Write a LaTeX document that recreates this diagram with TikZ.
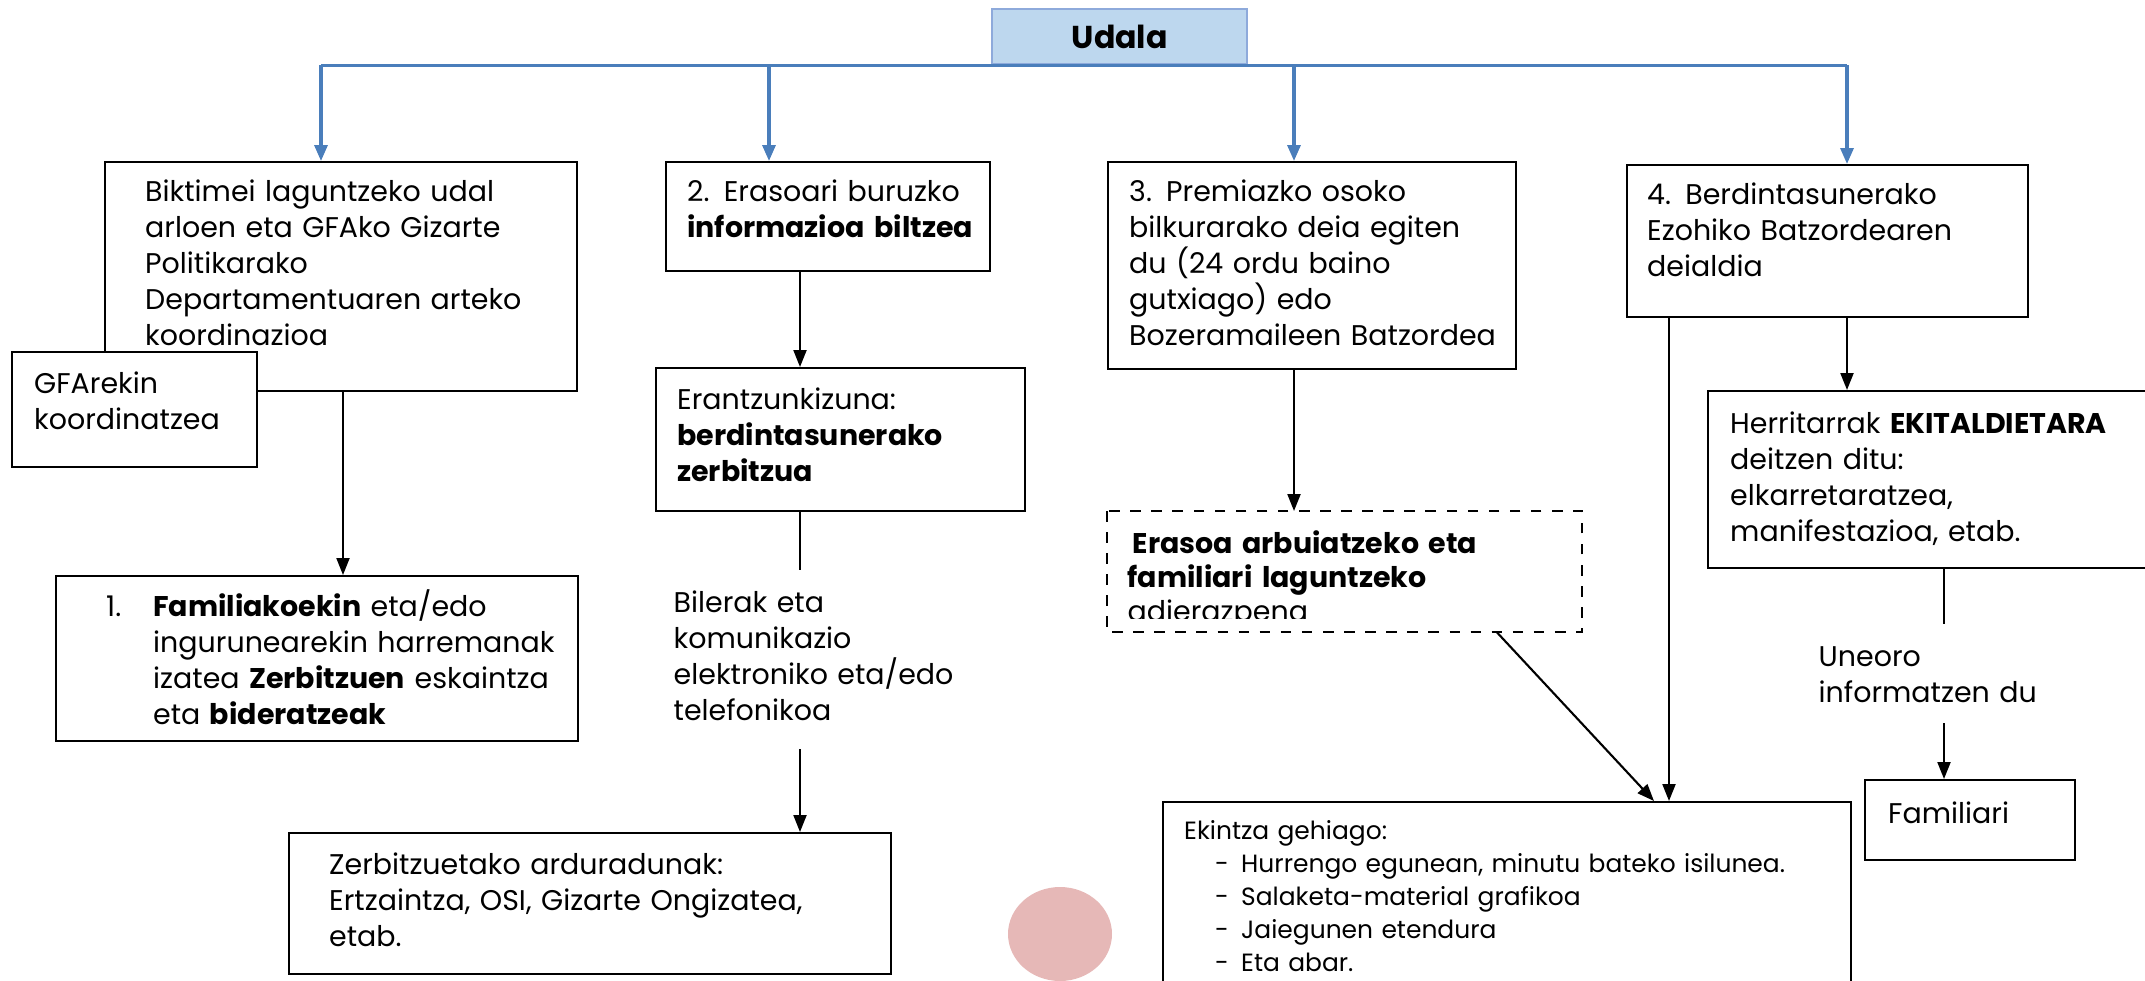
\documentclass[tikz,border=0pt]{standalone}
\usepackage{fontspec}
\setmainfont{Poppins}
\usetikzlibrary{arrows.meta}
\definecolor{udalafill}{HTML}{BDD7EE}
\definecolor{udaladraw}{HTML}{8EAADB}
\definecolor{busblue}{HTML}{4A7EBB}
\definecolor{pinkdot}{HTML}{E6B8B7}

\begin{document}
\begin{tikzpicture}[
		x=0.1mm, y=-0.1mm,
		every node/.style={inner sep=0pt, anchor=north west, align=left, font=\fontsize{8.1}{10.25}\selectfont},
		box/.style={draw, line width=0.7pt, fill=white},
		dashbox/.style={draw, dashed, line width=0.6pt},
		udalabox/.style={draw=udaladraw, fill=udalafill, line width=0.7pt, align=center, font=\fontsize{9}{11}\selectfont},
		arr/.style={-{Triangle[length=1.7mm,width=1.3mm]}, line width=0.6pt},
		bus/.style={draw=busblue, line width=0.9pt},
		bustip/.style={-{Triangle[length=1.6mm,width=1.3mm]}, busblue, line width=0.9pt}
		]
		\useasboundingbox (0,0) rectangle (2145,980);
		\clip (0,0) rectangle (2145,980);

		% zutabeak
		\coordinate (k1) at (321,0);
		\coordinate (k2) at (769,0);
		\coordinate (k3) at (1294,0);
		\coordinate (k4) at (1847,0);
		\coordinate (a1) at (343,0);
		\coordinate (a2) at (800,0);
		\coordinate (a4) at (1669,0);
		\coordinate (a6) at (1944,0);
		\coordinate (d1) at (1497,0);
		\coordinate (d2) at (1654,0);

		\node[udalabox, minimum width=25.5mm, minimum height=5.5mm] (udala) at (991,8) {\textbf{Udala}};

		% lehen maila
		\node[box, text width=47.2mm, text height=3.9mm, text depth=19mm] (b1) at (104,161)
		{\leftskip=4mm Biktimei laguntzeko udal\\arloen eta GFAko Gizarte\\Politikarako\\Departamentuaren arteko\\koordinazioa\par};
		\node[box, text width=24.5mm, text height=4.1mm, text depth=7.4mm] (gf) at (11,351)
		{\leftskip=2.2mm GFArekin\\koordinatzea\par};
		\node[box, text width=32.4mm, text height=3.9mm, text depth=7mm] (b2) at (665,161)
		{\leftskip=2.1mm 2. Erasoari buruzko\\\textbf{informazioa biltzea}\par};
		\node[box, text width=40.8mm, text height=3.9mm, text depth=16.8mm] (b3) at (1107,161)
		{\leftskip=2.1mm 3. Premiazko osoko\\bilkurarako deia egiten\\du (24 ordu baino\\gutxiago) edo\\Bozeramaileen Batzordea\par};
		\node[box, text width=40.1mm, text height=3.9mm, text depth=11.3mm] (b4) at (1626,164)
		{\leftskip=2mm 4. Berdintasunerako\\Ezohiko Batzordearen\\deialdia\par};

		% bigarren maila
		\node[box, text width=52.2mm, text height=4mm, text depth=12.5mm] (fam) at (55,575)
		{\leftskip=9.7mm\leavevmode\llap{\makebox[4.7mm][l]{1.}}\textbf{Familiakoekin} eta/edo\\ingurunearekin harremanak\\izatea \textbf{Zerbitzuen} eskaintza\\eta \textbf{bideratzeak}\par};
		\node[box, text width=36.9mm, text height=4.1mm, text depth=10.2mm] (er) at (655,367)
		{\leftskip=2.1mm Erantzunkizuna:\\\textbf{berdintasunerako}\\\textbf{zerbitzua}\par};
		\node[text width=30mm, text height=4.2mm, text depth=13.6mm] (bil) at (673,570)
		{Bilerak eta\\komunikazio\\elektroniko eta/edo\\telefonikoa};
		\node[box, text width=60.2mm, text height=4.1mm, text depth=10mm] (zer) at (288,832)
		{\leftskip=4mm Zerbitzuetako arduradunak:\\Ertzaintza, OSI, Gizarte Ongizatea,\\etab.\par};

		\begin{scope}
			\clip (1107,511) rectangle (1581,618);
			\node[text width=47.4mm, text height=4.2mm, text depth=7.8mm, font=\fontsize{8.1}{9.67}\selectfont] (era) at (1107,511)
			{\leftskip=2mm\hspace*{0.5mm}\textbf{Erasoa arbuiatzeko eta}\\\textbf{familiari laguntzeko}\\adierazpena\par};
		\end{scope}
		\draw[dashbox] (era.north west) rectangle (era.south east);

		\node[box, text width=45.3mm, text height=4.2mm, text depth=13.5mm] (her) at (1707,390)
		{\leftskip=2.2mm Herritarrak \textbf{EKITALDIETARA}\\deitzen ditu:\\elkarretaratzea,\\manifestazioa, etab.\par};
		\node[text width=25mm, text height=4.2mm, text depth=5.6mm] (une) at (1818,624)
		{Uneoro\\informatzen du};
		\node[box, text width=21mm, text height=4.3mm, text depth=3.7mm] (fa) at (1864,779)
		{\leftskip=2.3mm Familiari\par};
		\node[box, text width=68.8mm, text height=3.7mm, text depth=17.2mm, font=\fontsize{7.1}{9.4}\selectfont] (ek) at (1162,801)
		{\leftskip=2.1mm Ekintza gehiago:\\
			\hspace*{3.1mm}\makebox[2.6mm][l]{-}Hurrengo egunean, minutu bateko isilunea.\\
			\hspace*{3.1mm}\makebox[2.6mm][l]{-}Salaketa-material grafikoa\\
			\hspace*{3.1mm}\makebox[2.6mm][l]{-}Jaiegunen etendura\\
			\hspace*{3.1mm}\makebox[2.6mm][l]{-}Eta abar.\par};

		\fill[pinkdot] (1060,934) ellipse [x radius=52, y radius=47];

		% Udalaren adarrak
		\draw[bus] (k1 |- udala.south) -- (k4 |- udala.south);
		\draw[bustip] (k1 |- udala.south) -- (k1 |- b1.north);
		\draw[bustip] (k2 |- udala.south) -- (k2 |- b2.north);
		\draw[bustip] (k3 |- udala.south) -- (k3 |- b3.north);
		\draw[bustip] (k4 |- udala.south) -- (k4 |- b4.north);

		% gezi beltzak
		\draw[arr] (b1.south -| a1) -- (fam.north -| a1);
		\draw[arr] (b2.south -| a2) -- (er.north -| a2);
		\draw[line width=0.6pt] (er.south -| a2) -- (bil.north -| a2);
		\draw[arr] (bil.south -| a2) -- (zer.north -| a2);
		\draw[arr] (b3.south -| k3) -- (era.north -| k3);
		\draw[arr] (era.south -| d1) -- (ek.north -| d2);
		\draw[arr] (b4.south -| a4) -- (ek.north -| a4);
		\draw[arr] (b4.south -| k4) -- (her.north -| k4);
		\draw[line width=0.6pt] (her.south -| a6) -- (une.north -| a6);
		\draw[arr] (une.south -| a6) -- (fa.north -| a6);
\end{tikzpicture}
\end{document}
